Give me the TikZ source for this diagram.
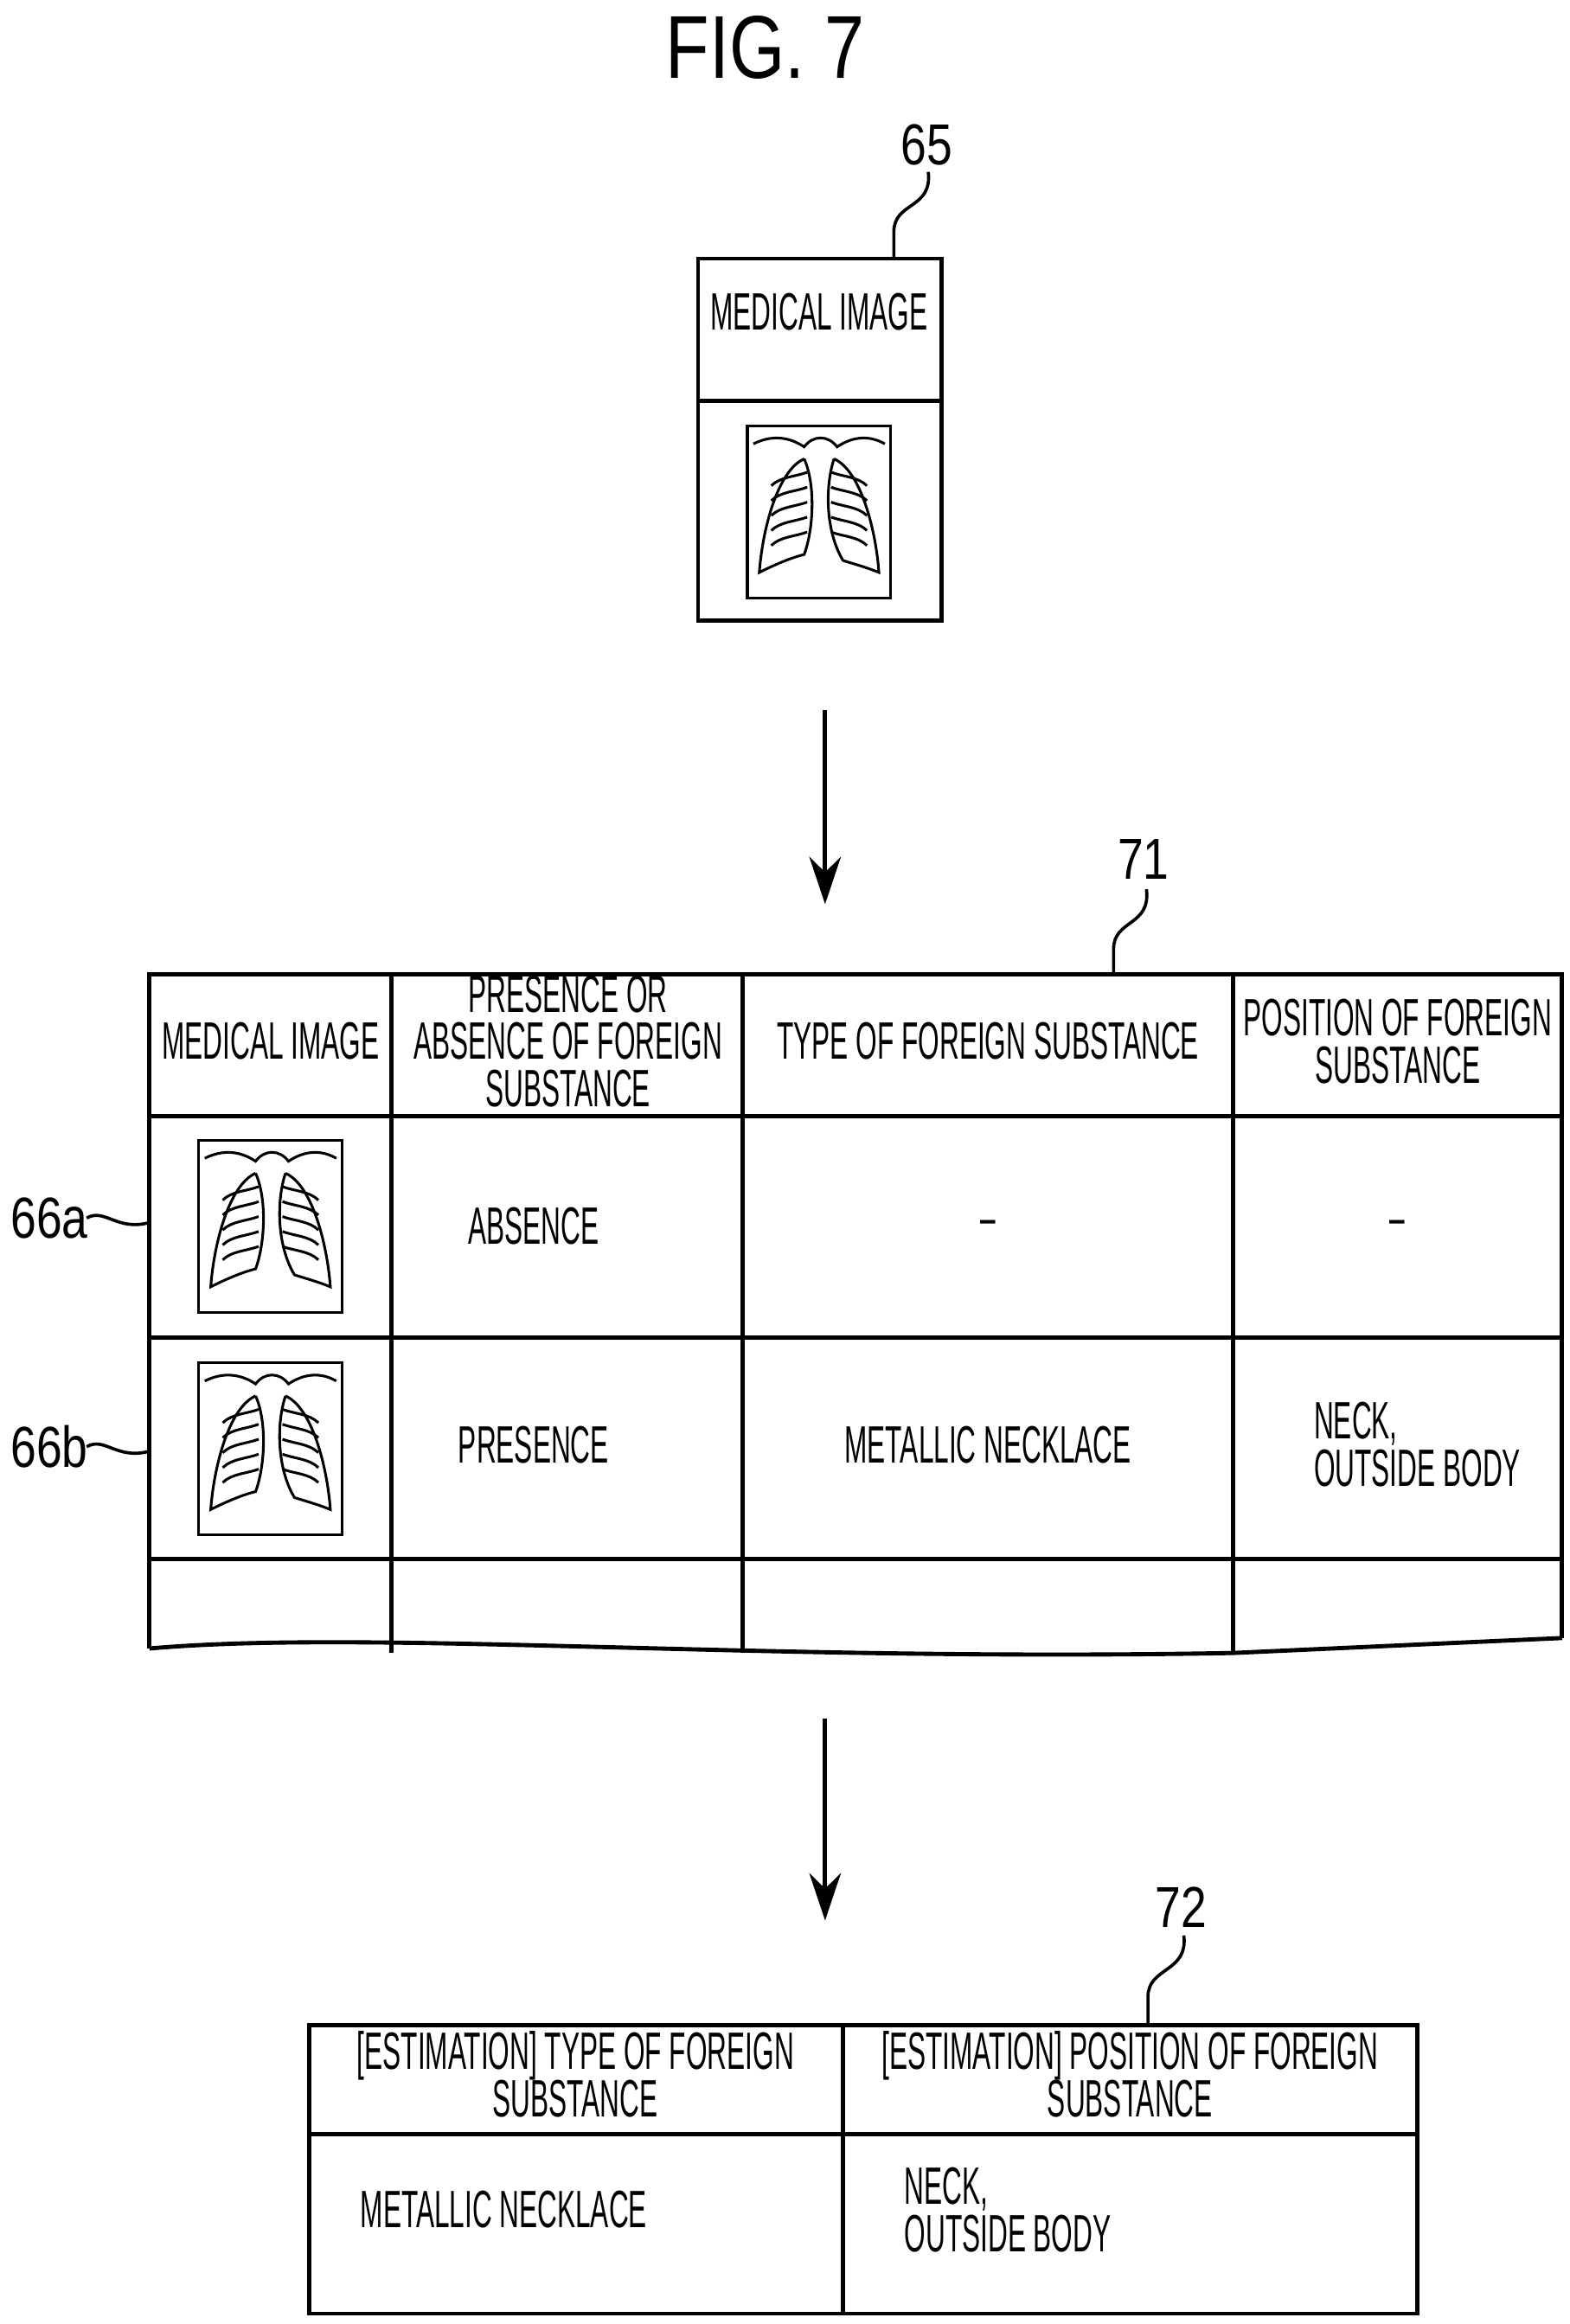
\documentclass[tikz,border=0pt]{standalone}
\usepackage{fontspec}
\setmainfont{Liberation Sans}
\usepackage{graphicx}
\usetikzlibrary{arrows.meta}

\newcommand\cell[2][c]{\scalebox{0.52}[1]{\fontsize{10}{8.6}\selectfont\renewcommand\arraystretch{0.78}\begin{tabular}{@{}#1@{}}#2\end{tabular}}}
\newcommand\refno[1]{\scalebox{0.8}[1]{\fontsize{11}{12}\selectfont #1}}
% small chest radiograph, top left corner at (#1,#2)
\newcommand\chest[2]{%
\begin{scope}[shift={(#1,#2)}, line width=0.5pt]
\draw (0,0) rectangle (96,-115);
\draw (4,-12) .. controls (20,-4) and (32,-10) .. (38,-14) .. controls (44,-6) and (54,-6) .. (60,-14) .. controls (66,-10) and (78,-4) .. (92,-12);
\draw (38,-22) .. controls (20,-30) and (10,-70) .. (8,-98) .. controls (20,-92) and (30,-88) .. (38,-86) .. controls (44,-70) and (46,-40) .. (38,-22);
\draw (58,-22) .. controls (76,-30) and (86,-70) .. (88,-98) .. controls (78,-94) and (70,-92) .. (64,-90) .. controls (52,-70) and (52,-40) .. (58,-22);
\foreach \y in {-34,-44,-54,-64,-74} {
  \draw (16,\y-6) .. controls (22,\y) and (32,\y) .. (40,\y+3);
  \draw (80,\y-6) .. controls (74,\y) and (64,\y) .. (56,\y+3);
}
\end{scope}}

\begin{document}
\begin{tikzpicture}[x=0.01cm,y=0.01cm, line width=0.8pt,
  lead/.style={line width=0.6pt},
  flow/.style={-{Stealth[length=9pt,width=6pt]}, line width=0.8pt}]
\useasboundingbox (0,0) rectangle (1050,-1555);

\node (title) at (512,-32) {\scalebox{0.8}[1]{\fontsize{17}{18}\selectfont FIG. 7}};

% medical image 65
\draw (467,-173) rectangle (630,-415);
\draw (467,-268) -- (630,-268);
\node (img) at (548,-212) {\cell{MEDICAL IMAGE}};
\chest{500}{-285}
\node (n65) at (620,-97) {\refno{65}};
\draw[lead] (621,-115) .. controls (624,-140) and (598,-135) .. (598,-155) -- (598,-173);

\coordinate (a1) at (552,-475);
\coordinate (a2) at (552,-605);
\draw[flow] (a1) -- (a2);

% table 71
\draw (100,-1103) -- (100,-652) -- (1045,-652) -- (1045,-1096);
\draw (100,-1103) .. controls (250,-1090) and (500,-1112) .. (825,-1106) -- (1045,-1096);
\foreach \x in {262,497,825} \draw (\x,-652) -- (\x,-1106);
\foreach \y in {747,895,1043} \draw (100,-\y) -- (1045,-\y);
\node (h1) at (181,-700) {\cell{MEDICAL IMAGE}};
\node (h2) at (380,-700) {\cell{PRESENCE OR\\ABSENCE OF FOREIGN\\SUBSTANCE}};
\node (h3) at (661,-700) {\cell{TYPE OF FOREIGN SUBSTANCE}};
\node (h4) at (935,-700) {\cell{POSITION OF FOREIGN\\SUBSTANCE}};
\chest{133}{-763}
\chest{133}{-912}
\node (r1b) at (357,-824) {\cell{ABSENCE}};
\node (r1c) at (661,-822) {\cell{--}};
\node (r1d) at (935,-822) {\cell{--}};
\node (r2b) at (357,-970) {\cell{PRESENCE}};
\node (r2c) at (661,-970) {\cell{METALLIC NECKLACE}};
\node[anchor=west] (r2d) at (866,-970) {\cell[l]{NECK,\\OUTSIDE BODY}};
\node (n71) at (765,-575) {\refno{71}};
\draw[lead] (767,-595) .. controls (770,-620) and (745,-615) .. (745,-635) -- (745,-652);
\node (n66a) at (33,-815) {\refno{66a}};
\node (n66b) at (33,-968) {\refno{66b}};
\draw[lead] (58,-815) .. controls (70,-808) and (78,-824) .. (100,-818);
\draw[lead] (58,-968) .. controls (70,-961) and (78,-977) .. (100,-971);

\coordinate (b1) at (552,-1150);
\coordinate (b2) at (552,-1285);
\draw[flow] (b1) -- (b2);

% table 72
\draw (207,-1355) rectangle (948,-1548);
\draw (207,-1428) -- (948,-1428);
\draw (564,-1355) -- (564,-1548);
\node (e1) at (385,-1391) {\cell{[ESTIMATION] TYPE OF FOREIGN\\SUBSTANCE}};
\node (e2) at (756,-1391) {\cell{[ESTIMATION] POSITION OF FOREIGN\\SUBSTANCE}};
\node (v1) at (337,-1482) {\cell{METALLIC NECKLACE}};
\node[anchor=west] (v2) at (592,-1482) {\cell[l]{NECK,\\OUTSIDE BODY}};
\node (n72) at (790,-1276) {\refno{72}};
\draw[lead] (792,-1295) .. controls (795,-1320) and (768,-1316) .. (768,-1336) -- (768,-1355);
\end{tikzpicture}
\end{document}
